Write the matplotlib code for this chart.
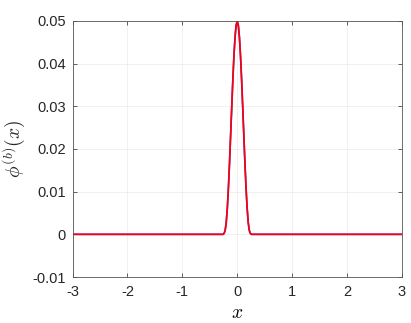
import matplotlib
matplotlib.use('Agg')
import matplotlib.pyplot as plt

# curve (symmetric bump around 0)
x_vals = [-3, -0.26, -0.24, -0.22, -0.20, -0.18, -0.16, -0.14, -0.12, -0.10, -0.08, -0.06, -0.04, -0.02, 0,
          0.02, 0.04, 0.06, 0.08, 0.10, 0.12, 0.14, 0.16, 0.18, 0.20, 0.22, 0.24, 0.26, 3]
y_vals = [0, 0, 0.0002, 0.0009, 0.0028, 0.0062, 0.0110, 0.0168, 0.0233, 0.0298, 0.0362, 0.0418, 0.0462, 0.0490, 0.0500,
          0.0490, 0.0462, 0.0418, 0.0362, 0.0298, 0.0233, 0.0168, 0.0110, 0.0062, 0.0028, 0.0009, 0.0002, 0, 0]

x_ticks = [-3, -2, -1, 0, 1, 2, 3]
x_tick_labels = ['-3', '-2', '-1', '0', '1', '2', '3']
y_ticks = [-0.01, 0, 0.01, 0.02, 0.03, 0.04, 0.05]
y_tick_labels = ['-0.01', '0', '0.01', '0.02', '0.03', '0.04', '0.05']

plt.rcParams['font.family'] = ['Liberation Sans', 'DejaVu Sans']
plt.rcParams['mathtext.fontset'] = 'cm'

fig = plt.figure(figsize=(4.11, 3.23), dpi=100)
ax = fig.add_axes([0.1764, 0.1424, 0.8016, 0.7926])

ax.plot(x_vals, y_vals, color='#3030ff', linewidth=1.2)
ax.plot(x_vals, y_vals, color='red', linewidth=1.2)

ax.set_xlim(-3, 3)
ax.set_ylim(-0.01, 0.05)
ax.set_xticks(x_ticks)
ax.set_xticklabels(x_tick_labels)
ax.set_yticks(y_ticks)
ax.set_yticklabels(y_tick_labels)
ax.grid(True, color='#ebebeb', linewidth=0.5)
ax.set_axisbelow(True)
ax.tick_params(direction='in', length=3, width=0.5, colors='#262626', labelsize=10.5, top=True, right=True,
               labeltop=False, labelright=False, pad=5)
ax.tick_params(axis='x', pad=6)
for s in ax.spines.values():
    s.set_color('#555555')
    s.set_linewidth(0.6)

ax.set_xlabel('$x$', fontsize=14, labelpad=4)
ax.set_ylabel(r'$\phi^{(b)}(x)$', fontsize=14, labelpad=4, color='#262626')

plt.savefig('out.png', dpi=100)
